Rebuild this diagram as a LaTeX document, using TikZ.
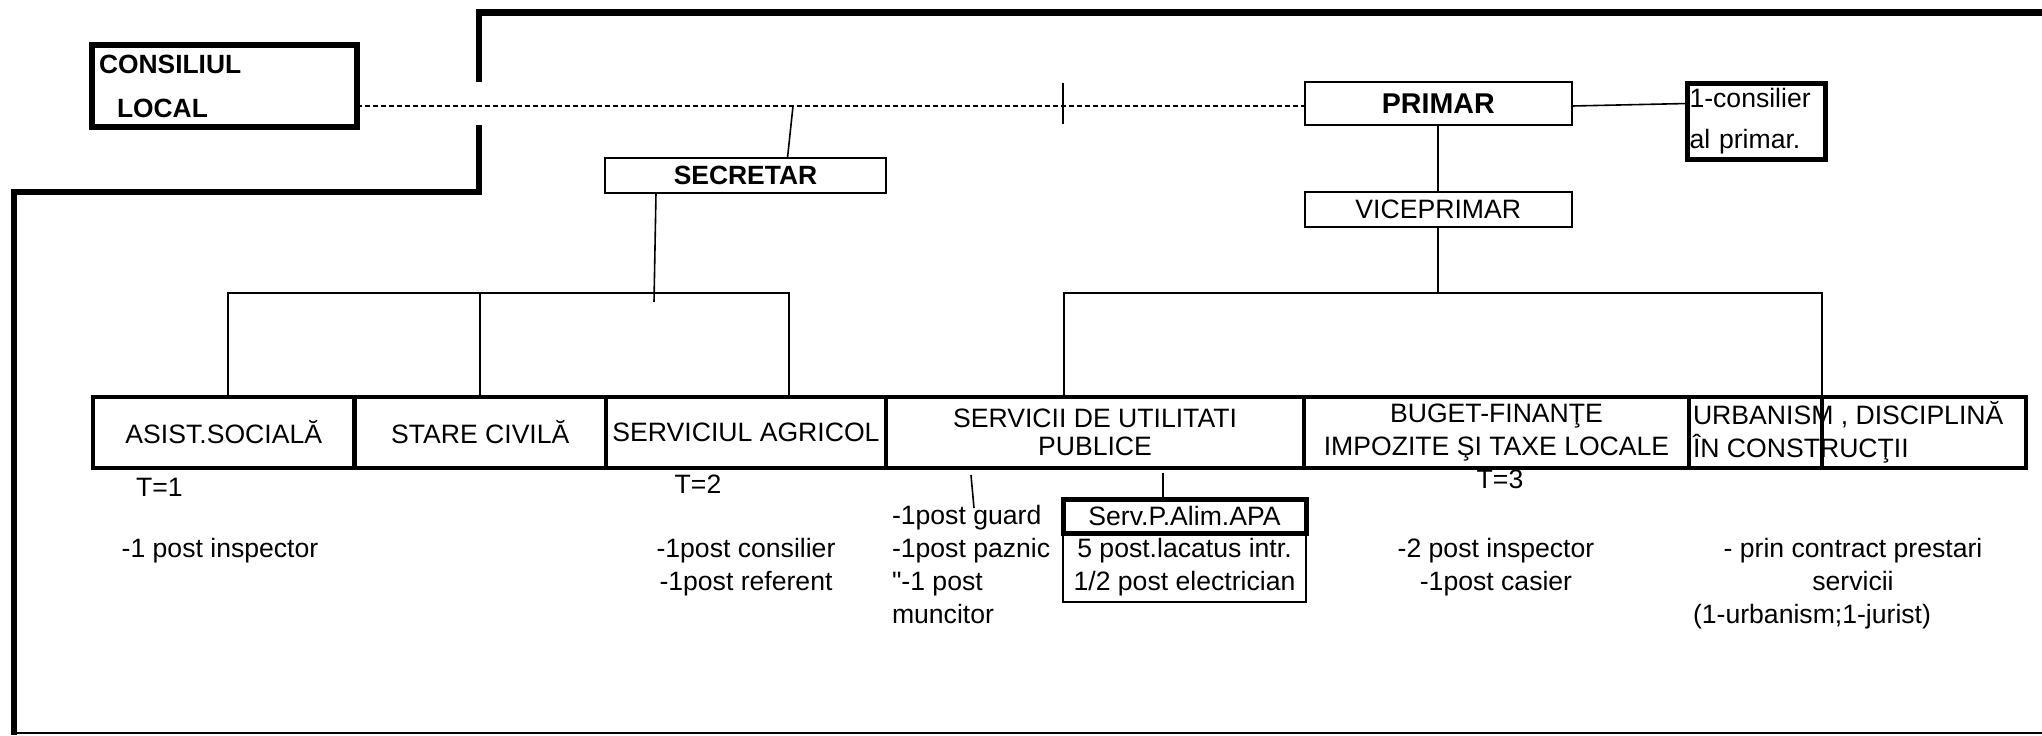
\documentclass[tikz,border=0pt]{standalone}
\usepackage{fontspec}
\setmainfont{Liberation Sans}
\newfontfamily\plainsans{Liberation Sans}
\usetikzlibrary{calc}
\begin{document}
\begin{tikzpicture}[x=0.5pt,y=-0.5pt,
  every node/.style={inner sep=0pt, outer sep=0pt},
  reg/.style={font=\fontsize{13.3}{15}\selectfont},
  lbl/.style={font=\fontsize{13.3}{16.5}\selectfont, align=center},
  rowbox/.style={draw, line width=2.25pt, minimum height=35.5pt, align=center, font=\fontsize{13.3}{14.25}\selectfont},
  thinbox/.style={draw, line width=1pt},
  conn/.style={line width=0.8pt},
  frameline/.style={line width=3.3pt},
  dashline/.style={line width=1.3pt, dash pattern=on 2.5pt off 1.5pt}
]
\useasboundingbox (0,0) rectangle (2042,735);

% outer frame
\draw[frameline] (2042,12.7) -- (479,12.7) -- (479,82);
\draw[frameline] (479,125) -- (479,192) -- (14,192) -- (14,735);
\draw[line width=1pt] (14,733) -- (2042,733);

% top level
\node[draw, line width=3pt, minimum width=132.75pt, minimum height=41pt, text width=125.25pt, inner xsep=3.75pt, align=left, font=\bfseries\fontsize{13.2}{22}\selectfont] (cl) at (224.25,86) {CONSILIUL\\\hspace*{9pt}LOCAL};
\node[thinbox, minimum width=140.5pt, minimum height=17.5pt, font=\bfseries\fontsize{13.2}{15}\selectfont] (sec) at (745.5,175.5) {SECRETAR};
\node[thinbox, minimum width=133.75pt, minimum height=21.5pt, font=\bfseries\fontsize{14.3}{16}\selectfont] (pr) at (1438.25,103.5) {PRIMAR};
\node[draw, line width=2.5pt, minimum width=69pt, minimum height=38pt, text width=66.5pt, inner xsep=1.25pt, align=left, font=\fontsize{13.3}{20.5}\selectfont] (cons) at (1756,121) {1-consilier\\al primar.};
\node[thinbox, minimum width=133.75pt, minimum height=17.5pt, reg] (vp) at (1438.25,209.5) {VICEPRIMAR};

% row of departments
\node[rowbox, minimum width=130.75pt] (asist) at (223.75,432.5) {ASIST.SOCIALĂ};
\node[rowbox, minimum width=125.75pt] (stare) at (480.25,432.5) {STARE CIVILĂ};
\node[rowbox, minimum width=140pt] (agr) at (746,432.5) {SERVICIUL AGRICOL};
\node[rowbox, minimum width=209pt] (util) at (1095,432.5) {SERVICII DE UTILITATI\\PUBLICE};
\node[rowbox, minimum width=192.5pt, font=\fontsize{13.3}{16.5}\selectfont] (buget) at (1496.5,432.5) {BUGET-FINANŢE\\IMPOZITE ŞI TAXE LOCALE};
\node[rowbox, minimum width=66.5pt] (urb) at (1755.5,432.5) {};
\node[rowbox, minimum width=102pt] (urbx) at (1924,432.5) {};
\node[align=left, anchor=west, font=\fontsize{13.3}{16.5}\selectfont] (urbt) at (1693,432.5) {URBANISM , DISCIPLINĂ\\ÎN CONSTRUCŢII};

% labels under boxes (multi-line nodes: base = last line)
\node[lbl, anchor=base] (t1) at (159.5,496) {T=1};
\node[lbl, anchor=base] (t2) at (698,493) {T=2};
\node[lbl, anchor=base] (t3) at (1500,488) {T=3};
\node[lbl, anchor=base] (insp) at (220,557) {-1 post inspector};
\node[lbl, anchor=base] (agrt) at (746,590) {-1post consilier\\-1post referent};
\node[lbl, align=left, anchor=base west] (guard) at (892,623) {-1post guard\\-1post paznic\\{\plainsans"}-1 post\\muncitor};
\node[lbl, anchor=base] (bugt) at (1496,590) {-2 post inspector\\-1post casier};
\node[lbl, anchor=base] (urbt2) at (1853,590) {- prin contract prestari\\servicii};
\node[lbl, anchor=base] (urbj) at (1812,623) {(1-urbanism;1-jurist)};

% water service boxes
\node[thinbox, minimum width=121.5pt, minimum height=34.5pt, lbl] (servb) at (1184.5,567.5) {5 post.lacatus intr.\\1/2 post electrician};
\node[draw, line width=2.5pt, minimum width=121.5pt, minimum height=17pt, reg] (serv) at (1184.5,516) {Serv.P.Alim.APA};

% connectors
\coordinate (dl) at (0,106);
\draw[dashline] (cl.east |- dl) -- (pr.west |- dl);
\coordinate (tka) at (1063,83);
\coordinate (tkb) at (1063,124);
\draw[conn] (tka) -- (tkb);
\coordinate (sectop) at (793,106);
\draw[conn] (sectop) -- ([xshift=21pt]sec.north);
\coordinate (hb) at (0,293);
\coordinate (secend) at (654,302);
\draw[conn] ([xshift=-44.75pt]sec.south) -- (secend);
\coordinate (asd) at ([xshift=2.125pt]asist.north);
\coordinate (agd) at ([xshift=21.5pt]agr.north);
\coordinate (utd) at ([xshift=-15.5pt]util.north);
\draw[conn] (asd) |- (agd |- hb) -- (agd);
\draw[conn] (stare.north) -- (stare.north |- hb);
\draw[conn] (utd) |- (urb.north east |- hb) -- (urb.north east);
\draw[conn] (vp.south) -- (vp.south |- hb);
\draw[conn] (pr.south) -- (vp.north);
\draw[conn] ([yshift=-1.25pt]pr.east) -- ([yshift=8.75pt]cons.west);
\coordinate (g1) at (971,475);
\coordinate (g2) at (974,508);
\draw[conn] (g1) -- (g2);
\coordinate (sv1) at (1163,473);
\draw[conn] (sv1) -- (sv1 |- serv.north);
\end{tikzpicture}
\end{document}
